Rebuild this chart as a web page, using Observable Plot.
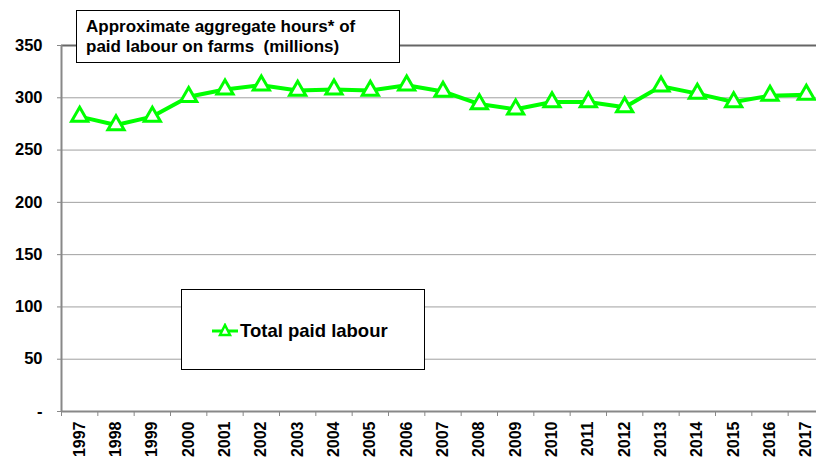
<!DOCTYPE html>
<html>
<head>
<meta charset="utf-8">
<script src="https://cdn.jsdelivr.net/npm/d3@7"></script>
<script src="https://cdn.jsdelivr.net/npm/@observablehq/plot@0.6"></script>
<style>
  html, body { margin: 0; padding: 0; background: #fff; overflow: hidden; }
  #wrap { position: relative; width: 816px; height: 459px; font-family: "Liberation Sans", Arial, sans-serif; }
  #wrap svg { position: absolute; left: 0; top: 0; }
  .box { position: absolute; background: #fff; border: 1px solid #000; box-sizing: border-box; font-weight: bold; color: #000; }
  #title { left: 76px; top: 10px; width: 324px; height: 53px; font-size: 17px; line-height: 20px; padding: 6px 0 0 9px; white-space: nowrap; }
  #legend { left: 181px; top: 289px; width: 244px; height: 81px; font-size: 18.5px; }
  #legend .item { position: absolute; left: 29px; top: 30px; display: flex; align-items: center; white-space: nowrap; }
</style>
</head>
<body>
<div id="wrap"></div>
<script>
const years = [1997, 1998, 1999, 2000, 2001, 2002, 2003, 2004, 2005, 2006, 2007, 2008, 2009, 2010, 2011, 2012, 2013, 2014, 2015, 2016, 2017];
const paidLabour = [282, 274, 282, 301, 308, 312, 307, 308, 307, 312, 306, 294, 289, 296, 296, 291, 311, 304, 296, 302, 303];
const yTicks = [0, 50, 100, 150, 200, 250, 300, 350];
const titleLines = ["Approximate aggregate hours* of", "paid labour on farms  (millions)"];
const seriesName = "Total paid labour";
const lineColor = "#00ff00";

const data = years.map((y, i) => ({year: y, value: paidLabour[i]}));
const bounds = [years[0] - 0.5, ...years.map(y => y + 0.5)];
const yMax = yTicks[yTicks.length - 1];

const chart = Plot.plot({
  width: 816,
  height: 459,
  marginLeft: 61,
  marginRight: -8,
  marginTop: 45,
  marginBottom: 48,
  style: {fontFamily: "Liberation Sans, Arial, sans-serif", fontWeight: "bold", fontSize: "16px", color: "#000", background: "transparent", overflow: "visible"},
  x: {type: "linear", domain: [bounds[0], bounds[bounds.length - 1]]},
  y: {domain: [0, yMax]},
  marks: [
    Plot.ruleY(yTicks.filter(t => t > 0 && t < yMax), {stroke: "#a0a0a0", strokeWidth: 1}),
    Plot.ruleY([yMax], {stroke: "#666", strokeWidth: 2}),
    Plot.axisY(yTicks, {tickSize: 4, tickPadding: 15, stroke: "#888", fontSize: 16.5, fontWeight: "bold", fill: "#000", tickFormat: d => d === 0 ? "-" : d, label: null}),
    Plot.ruleX([bounds[0]], {stroke: "#888", strokeWidth: 2}),
    Plot.ruleY([0], {stroke: "#888", strokeWidth: 2}),
    Plot.axisX(bounds, {tickSize: 5, stroke: "#888", tickFormat: () => "", label: null}),
    Plot.axisX(years, {tickSize: 0, tickPadding: 10, tickRotate: -90, fontSize: 16, fontWeight: "bold", fill: "#000", tickFormat: d => String(d), label: null}),
    Plot.line(data, {x: "year", y: "value", stroke: lineColor, strokeWidth: 4}),
    Plot.dot(data, {x: "year", y: "value", symbol: "triangle", r: 6, stroke: lineColor, strokeWidth: 3, fill: "#fff"})
  ]
});

const wrap = document.getElementById("wrap");
wrap.appendChild(chart);

const title = document.createElement("div");
title.className = "box";
title.id = "title";
title.innerHTML = titleLines.map(l => `<div>${l.replace(/  /g, " &nbsp;")}</div>`).join("");
wrap.appendChild(title);

const legend = document.createElement("div");
legend.className = "box";
legend.id = "legend";
legend.innerHTML = `<div class="item"><svg width="28" height="16" style="position:static;margin-right:1px"><line x1="1" y1="8" x2="27" y2="8" stroke="${lineColor}" stroke-width="3"/><path d="M14,2 L19,12 L9,12 Z" fill="#fff" stroke="${lineColor}" stroke-width="2.5"/></svg><span>${seriesName}</span></div>`;
wrap.appendChild(legend);
</script>
</body>
</html>
